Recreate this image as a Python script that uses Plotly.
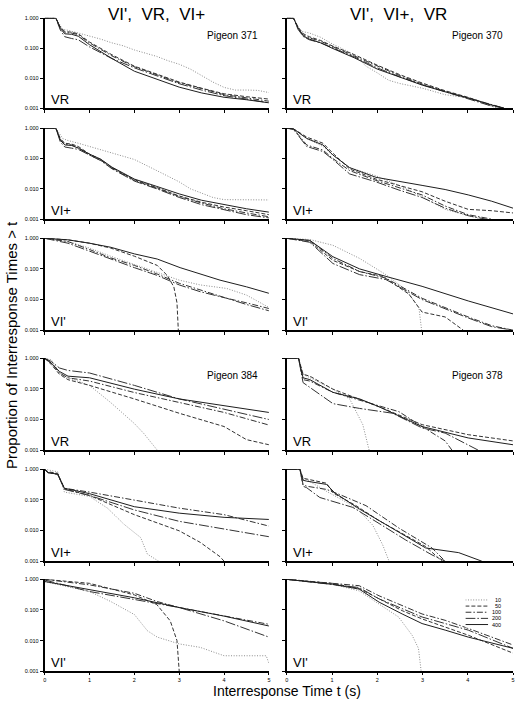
import plotly.graph_objects as go

W, H = 517, 701
FONT = "Arial, Liberation Sans, Helvetica, sans-serif"

SERIES = ["10", "50", "100", "200", "400"]
DASHES = {"10": "1px,1.6px", "50": "4px,2px", "100": "6px,2px,1.5px,2px",
          "200": "10px,2px,1.5px,2px", "400": "solid"}
COLORS = {"10": "#8c8c8c", "50": "#333333", "100": "#333333", "200": "#333333", "400": "#1e1e1e"}

# ---------------- data: series -> (time t in s, proportion of IRTs > t) ----------------
P371_VR = {
    "10": ([0, 0.25, 0.4, 0.5, 0.75, 1, 1.25, 1.5, 1.75, 2, 2.25, 2.5, 2.75, 3, 3.25, 3.5, 3.75, 4, 4.25, 4.5, 4.75, 5],
           [1, 1, 0.42, 0.40, 0.32, 0.26, 0.20, 0.15, 0.12, 0.087, 0.068, 0.053, 0.038, 0.029, 0.020, 0.012, 0.0074, 0.0049, 0.0040, 0.0040, 0.0039, 0.0033]),
    "50": ([0, 0.25, 0.35, 0.45, 0.6, 0.75, 1, 1.5, 2, 2.5, 3, 3.5, 4, 4.5, 5],
           [1, 1, 0.5, 0.36, 0.34, 0.30, 0.16, 0.06, 0.025, 0.014, 0.0074, 0.0046, 0.003, 0.0024, 0.002]),
    "100": ([0, 0.25, 0.35, 0.45, 0.6, 0.75, 1, 1.5, 2, 2.5, 3, 3.5, 4, 4.5, 5],
            [1, 1, 0.5, 0.33, 0.32, 0.28, 0.15, 0.055, 0.024, 0.013, 0.007, 0.0045, 0.0028, 0.0022, 0.0017]),
    "200": ([0, 0.25, 0.35, 0.45, 0.6, 0.75, 1, 1.5, 2, 2.5, 3, 3.5, 4, 4.5, 5],
            [1, 1, 0.4, 0.24, 0.21, 0.19, 0.11, 0.045, 0.022, 0.012, 0.0065, 0.004, 0.0026, 0.002, 0.0015]),
    "400": ([0, 0.25, 0.35, 0.45, 0.6, 0.75, 1, 1.5, 2, 2.5, 3, 3.5, 4, 4.5, 5],
            [1, 1, 0.45, 0.3, 0.29, 0.25, 0.13, 0.045, 0.017, 0.009, 0.005, 0.0032, 0.0023, 0.0019, 0.0015]),
}
P370_VR = {
    "10": ([0, 0.15, 0.3, 0.5, 0.75, 1, 1.5, 1.75, 2, 2.25, 2.5, 3, 3.5, 4, 4.5, 4.65],
           [1, 1, 0.37, 0.32, 0.23, 0.14, 0.06, 0.025, 0.015, 0.0085, 0.0066, 0.0046, 0.0028, 0.0022, 0.0012, 0.001]),
    "50": ([0, 0.15, 0.25, 0.37, 0.5, 0.75, 1, 1.5, 2, 2.5, 3, 3.5, 4, 4.5, 4.8],
           [1, 1, 0.5, 0.3, 0.24, 0.18, 0.12, 0.06, 0.027, 0.013, 0.0068, 0.0038, 0.0023, 0.0013, 0.001]),
    "100": ([0, 0.15, 0.25, 0.37, 0.5, 0.75, 1, 1.5, 2, 2.5, 3, 3.5, 4, 4.5, 4.8],
            [1, 1, 0.45, 0.27, 0.22, 0.17, 0.115, 0.055, 0.025, 0.012, 0.0063, 0.0036, 0.0022, 0.0013, 0.001]),
    "200": ([0, 0.15, 0.25, 0.37, 0.5, 0.75, 1, 1.5, 2, 2.5, 3, 3.5, 4, 4.5, 4.8],
            [1, 1, 0.42, 0.24, 0.19, 0.15, 0.105, 0.05, 0.022, 0.011, 0.006, 0.0035, 0.0021, 0.0012, 0.001]),
    "400": ([0, 0.15, 0.25, 0.37, 0.5, 0.75, 1, 1.5, 2, 2.5, 3, 3.5, 4, 4.5, 4.8],
            [1, 1, 0.47, 0.25, 0.2, 0.15, 0.1, 0.047, 0.02, 0.0105, 0.0058, 0.0035, 0.0022, 0.0013, 0.001]),
}
P371_VIPLUS = {
    "10": ([0, 0.25, 0.4, 0.5, 0.75, 1, 1.5, 2, 2.5, 3, 3.25, 3.5, 3.75, 4, 5],
           [1, 1, 0.46, 0.4, 0.32, 0.25, 0.15, 0.093, 0.04, 0.017, 0.01, 0.007, 0.0052, 0.0044, 0.0043]),
    "50": ([0, 0.25, 0.35, 0.45, 0.6, 0.75, 1, 1.25, 1.5, 2, 2.5, 3, 3.5, 4, 4.5, 5],
           [1, 1, 0.45, 0.32, 0.3, 0.25, 0.14, 0.093, 0.05, 0.02, 0.011, 0.0058, 0.0036, 0.0025, 0.0019, 0.0014]),
    "100": ([0, 0.25, 0.35, 0.45, 0.6, 0.75, 1, 1.25, 1.5, 2, 2.5, 3, 3.5, 4, 4.5, 5],
            [1, 1, 0.42, 0.3, 0.28, 0.23, 0.13, 0.088, 0.048, 0.019, 0.0105, 0.0056, 0.0034, 0.0022, 0.0016, 0.0012]),
    "200": ([0, 0.25, 0.35, 0.45, 0.6, 0.75, 1, 1.25, 1.5, 2, 2.5, 3, 3.5, 4, 4.5, 5],
            [1, 1, 0.35, 0.24, 0.22, 0.2, 0.13, 0.085, 0.046, 0.018, 0.01, 0.0052, 0.003, 0.002, 0.0014, 0.0011]),
    "400": ([0, 0.25, 0.35, 0.45, 0.6, 0.75, 1, 1.25, 1.5, 2, 2.5, 3, 3.5, 4, 4.5, 5],
            [1, 1, 0.4, 0.28, 0.27, 0.22, 0.14, 0.095, 0.052, 0.021, 0.012, 0.0068, 0.0042, 0.003, 0.0022, 0.0017]),
}
P370_VIPLUS = {
    "10": ([0, 0.15, 0.44, 0.8, 1.02, 1.39, 1.97, 2.48, 2.99, 3.5, 4.01, 4.3],
           [1, 0.95, 0.46, 0.25, 0.13, 0.05, 0.027, 0.013, 0.0055, 0.0021, 0.0013, 0.001]),
    "50": ([0, 0.15, 0.44, 0.8, 1.02, 1.39, 1.97, 2.48, 2.99, 3.5, 4.01, 4.53, 5],
           [1, 0.95, 0.51, 0.32, 0.15, 0.045, 0.021, 0.013, 0.008, 0.0039, 0.0021, 0.0019, 0.0016]),
    "100": ([0, 0.15, 0.44, 0.8, 1.02, 1.39, 1.97, 2.48, 2.99, 3.5, 4.01, 4.53],
            [1, 0.95, 0.28, 0.19, 0.1, 0.04, 0.019, 0.011, 0.0063, 0.0027, 0.0014, 0.001]),
    "200": ([0, 0.15, 0.44, 0.8, 1.02, 1.39, 1.97, 2.48, 2.99, 3.5, 4.01, 4.4],
            [1, 0.91, 0.25, 0.17, 0.093, 0.031, 0.017, 0.0091, 0.0052, 0.0023, 0.0013, 0.001]),
    "400": ([0, 0.15, 0.44, 0.8, 1.02, 1.39, 1.97, 2.48, 2.99, 3.5, 4.01, 4.53, 5],
            [1, 0.95, 0.46, 0.28, 0.13, 0.05, 0.024, 0.018, 0.013, 0.0095, 0.0063, 0.0039, 0.0023]),
}
P371_VIPRIME = {
    "10": ([0, 0.52, 1, 1.47, 2, 2.5, 3, 3.47, 4.06, 4.5, 5],
           [1, 0.78, 0.48, 0.26, 0.14, 0.078, 0.043, 0.03, 0.023, 0.014, 0.0055]),
    "50": ([0, 0.52, 1, 1.47, 2, 2.29, 2.51, 2.73, 2.88, 2.95, 2.98],
           [1, 0.89, 0.69, 0.48, 0.26, 0.18, 0.13, 0.062, 0.026, 0.0079, 0.001]),
    "100": ([0, 0.52, 1, 1.47, 2, 2.5, 3, 3.47, 4.06, 4.5, 5],
            [1, 0.78, 0.43, 0.23, 0.13, 0.069, 0.034, 0.021, 0.011, 0.0078, 0.0051]),
    "200": ([0, 0.52, 1, 1.47, 2, 2.5, 3, 3.47, 4.06, 4.5, 5],
            [1, 0.69, 0.38, 0.21, 0.11, 0.062, 0.03, 0.018, 0.011, 0.0069, 0.0043]),
    "400": ([0, 0.52, 1, 1.47, 2, 2.51, 3.02, 3.47, 3.91, 4.5, 5],
            [1, 0.89, 0.69, 0.51, 0.31, 0.21, 0.11, 0.069, 0.043, 0.026, 0.016]),
}
P370_VIPRIME = {
    "10": ([0, 0.51, 1.02, 1.61, 2.19, 2.63, 2.92, 2.98],
           [1, 0.91, 0.59, 0.22, 0.065, 0.021, 0.0055, 0.001]),
    "50": ([0, 0.51, 1.02, 1.61, 2.12, 2.7, 2.99, 3.5, 3.9],
           [1, 0.78, 0.19, 0.082, 0.057, 0.015, 0.0039, 0.0027, 0.001]),
    "100": ([0, 0.51, 1.02, 1.61, 2.19, 2.99, 4.01, 4.53, 5],
            [1, 0.85, 0.22, 0.082, 0.05, 0.011, 0.0027, 0.0014, 0.001]),
    "200": ([0, 0.51, 1.02, 1.61, 2.19, 2.99, 4.01, 4.53, 5],
            [1, 0.74, 0.15, 0.065, 0.045, 0.01, 0.0025, 0.0013, 0.001]),
    "400": ([0, 0.51, 1.02, 1.61, 2.19, 2.99, 4.01, 5],
            [1, 0.85, 0.25, 0.1, 0.057, 0.027, 0.009, 0.0034]),
}
P384_VR = {
    "10": ([0, 0.15, 0.33, 0.44, 1.0, 1.47, 2.0, 2.21, 2.51],
           [1, 0.89, 0.33, 0.26, 0.13, 0.036, 0.0074, 0.0035, 0.001]),
    "50": ([0, 0.15, 0.33, 0.52, 1, 2, 3, 4, 4.5, 5],
           [1, 0.62, 0.3, 0.2, 0.13, 0.047, 0.016, 0.0059, 0.0022, 0.0015]),
    "100": ([0, 0.15, 0.33, 0.52, 1, 2, 3, 4, 5],
            [1, 0.69, 0.33, 0.23, 0.18, 0.076, 0.036, 0.017, 0.0066]),
    "200": ([0, 0.15, 0.33, 0.52, 1, 2, 3, 4, 5],
            [1, 0.78, 0.48, 0.4, 0.33, 0.13, 0.047, 0.022, 0.01]),
    "400": ([0, 0.15, 0.33, 0.52, 1, 2, 3, 4, 5],
            [1, 0.69, 0.37, 0.26, 0.23, 0.098, 0.047, 0.029, 0.017]),
}
P378_VR = {
    "10": ([0, 0.26, 0.36, 0.51, 1.02, 1.39, 1.68, 1.82],
           [1, 1, 0.3, 0.23, 0.098, 0.047, 0.0068, 0.001]),
    "50": ([0, 0.26, 0.36, 0.51, 1.02, 1.61, 2.04, 2.99, 4.01, 5],
           [1, 1, 0.3, 0.26, 0.098, 0.047, 0.026, 0.0068, 0.0032, 0.002]),
    "100": ([0, 0.26, 0.36, 0.51, 1.02, 1.61, 2.48, 2.99, 3.5, 3.65],
            [1, 1, 0.2, 0.18, 0.077, 0.042, 0.018, 0.0059, 0.002, 0.001]),
    "200": ([0, 0.26, 0.36, 0.51, 1.02, 1.61, 2.34, 2.99, 3.5, 4.23],
            [1, 1, 0.16, 0.11, 0.033, 0.023, 0.016, 0.0053, 0.0036, 0.001]),
    "400": ([0, 0.26, 0.36, 0.51, 1.02, 1.61, 2.04, 2.99, 4.01, 5],
            [1, 1, 0.23, 0.2, 0.077, 0.047, 0.026, 0.0059, 0.0025, 0.0015]),
}
P384_VIPLUS = {
    "10": ([0, 0.07, 0.29, 0.44, 1.0, 1.4, 1.77, 2.14, 2.29, 2.54],
           [1, 0.95, 0.83, 0.18, 0.13, 0.054, 0.016, 0.0059, 0.0017, 0.001]),
    "50": ([0, 0.07, 0.29, 0.44, 1.0, 2.0, 3.0, 3.47, 3.91, 4.0],
           [1, 0.83, 0.74, 0.23, 0.14, 0.033, 0.0098, 0.0041, 0.0014, 0.001]),
    "100": ([0, 0.07, 0.29, 0.44, 1, 2, 3, 4, 5],
            [1, 0.78, 0.69, 0.24, 0.18, 0.1, 0.054, 0.033, 0.014]),
    "200": ([0, 0.07, 0.29, 0.44, 1, 2, 3, 4, 5],
            [1, 0.78, 0.69, 0.22, 0.14, 0.047, 0.02, 0.011, 0.0063]),
    "400": ([0, 0.07, 0.29, 0.44, 1, 2, 3, 4, 5],
            [1, 0.78, 0.69, 0.24, 0.16, 0.06, 0.037, 0.027, 0.023]),
}
P378_VIPLUS = {
    "10": ([0, 0.29, 0.36, 0.44, 0.88, 1.53, 1.9, 2.12, 2.26],
           [1, 1, 0.48, 0.46, 0.19, 0.057, 0.015, 0.0034, 0.001]),
    "50": ([0, 0.29, 0.36, 0.44, 0.88, 1.02, 1.53, 2.04, 2.55, 3.07, 3.43],
           [1, 1, 0.51, 0.48, 0.35, 0.17, 0.065, 0.021, 0.008, 0.003, 0.001]),
    "100": ([0, 0.29, 0.36, 0.44, 0.88, 1.17, 1.75, 2.48, 3.21, 3.5],
            [1, 1, 0.32, 0.28, 0.22, 0.15, 0.065, 0.012, 0.0027, 0.001]),
    "200": ([0, 0.29, 0.36, 0.44, 0.73, 1.46, 2.04, 2.63, 3.21, 3.5],
            [1, 1, 0.28, 0.25, 0.12, 0.057, 0.017, 0.0049, 0.0016, 0.001]),
    "400": ([0, 0.29, 0.36, 0.44, 0.88, 1.06, 1.61, 2.34, 3.07, 3.8, 4.31],
            [1, 1, 0.44, 0.41, 0.32, 0.17, 0.05, 0.012, 0.0027, 0.0019, 0.001]),
}
P384_VIPRIME = {
    "10": ([0, 1, 1.47, 2, 2.29, 2.51, 3, 3.47, 4, 4.94, 5],
           [0.84, 0.4, 0.19, 0.071, 0.021, 0.013, 0.0078, 0.006, 0.0032, 0.0032, 0.0018]),
    "50": ([0, 1, 2, 2.5, 2.8, 2.95, 3.0],
           [1, 0.74, 0.31, 0.15, 0.044, 0.01, 0.001]),
    "100": ([0, 1, 2, 2.5, 3, 4, 5],
            [1, 0.66, 0.35, 0.19, 0.12, 0.063, 0.034]),
    "200": ([0, 1, 2, 3, 4, 5],
            [0.95, 0.4, 0.22, 0.12, 0.044, 0.013]),
    "400": ([0, 1, 2, 3, 4, 5],
            [0.85, 0.46, 0.25, 0.12, 0.063, 0.03]),
}
P378_VIPRIME = {
    "10": ([0, 1.01, 1.6, 2.04, 2.47, 2.77, 2.91, 2.97],
           [1, 0.69, 0.42, 0.16, 0.059, 0.015, 0.0056, 0.001]),
    "50": ([0, 1.01, 1.6, 2.04, 2.55, 2.99, 3.5, 4.01, 5],
           [1, 0.74, 0.5, 0.23, 0.095, 0.051, 0.028, 0.015, 0.0039]),
    "100": ([0, 1.01, 1.6, 2.04, 2.55, 2.99, 3.5, 4.01, 5],
            [1, 0.74, 0.62, 0.29, 0.14, 0.074, 0.046, 0.025, 0.0072]),
    "200": ([0, 1.01, 1.6, 2.04, 2.55, 2.99, 3.5, 4.01, 5],
            [1, 0.69, 0.54, 0.23, 0.11, 0.059, 0.036, 0.022, 0.0056]),
    "400": ([0, 1.01, 1.6, 2.04, 2.55, 2.99, 3.5, 4.01, 5],
            [1, 0.69, 0.48, 0.18, 0.074, 0.036, 0.022, 0.013, 0.0056]),
}

PANELS = [P371_VR, P370_VR, P371_VIPLUS, P370_VIPLUS, P371_VIPRIME, P370_VIPRIME,
          P384_VR, P378_VR, P384_VIPLUS, P378_VIPLUS, P384_VIPRIME, P378_VIPRIME]
ROW_LABELS = ["VR", "VI+", "VI'", "VR", "VI+", "VI'"]
COL_TITLES = ["VI',\u00a0\u00a0VR,\u00a0\u00a0VI+", "VI',\u00a0\u00a0VI+,\u00a0\u00a0VR"]
PIGEONS = {0: "Pigeon 371", 1: "Pigeon 370", 6: "Pigeon 384", 7: "Pigeon 378"}
Y_TICKS = [0.001, 0.01, 0.1, 1]
Y_TICKTEXT = ["0.001", "0.010", "0.100", "1.000"]
X_TICKS = [0, 1, 2, 3, 4, 5]

# ---------------- layout geometry (pixels) ----------------
ROW_PX = [(15, 106), (126, 218), (237, 330), (358, 451), (470, 563), (581, 674)]
COL_PX = [(43, 269), (287, 515)]


def fx(p):
    return p / W


def fy(p):
    return 1 - p / H


fig = go.Figure()
layout = {}
annotations = []

for i, panel in enumerate(PANELS):
    r, c = divmod(i, 2)
    n = i + 1
    xa, ya = ("x", "y") if n == 1 else (f"x{n}", f"y{n}")
    for s in SERIES:
        t, p = panel[s]
        fig.add_trace(go.Scatter(
            x=t, y=p, mode="lines", xaxis=xa, yaxis=ya, name=s,
            line=dict(color=COLORS[s], width=1, dash=DASHES[s]),
            showlegend=False, hoverinfo="skip"))
    x0, x1 = COL_PX[c]
    y0, y1 = ROW_PX[r]
    kx = "xaxis" if n == 1 else f"xaxis{n}"
    ky = "yaxis" if n == 1 else f"yaxis{n}"
    layout[kx] = dict(domain=[fx(x0), fx(x1)], anchor=ya, range=[0, 5],
                      tickvals=X_TICKS, showticklabels=(r == 5),
                      ticks="outside", ticklen=(2 if r == 5 else 3), tickwidth=1, tickcolor="black",
                      showline=True, linewidth=2, linecolor="black",
                      showgrid=False, zeroline=False,
                      tickfont=dict(size=5.5, color="black", family=FONT))
    layout[ky] = dict(domain=[fy(y1), fy(y0)], anchor=xa, type="log",
                      range=[-3, 0.01], tickvals=Y_TICKS, ticktext=Y_TICKTEXT,
                      showticklabels=(c == 0),
                      ticks="outside", ticklen=3, tickwidth=1, tickcolor="black",
                      showline=True, linewidth=2, linecolor="black",
                      showgrid=False, zeroline=False,
                      tickfont=dict(size=5.5, color="black", family=FONT))
    annotations.append(dict(text=ROW_LABELS[r], xref="paper", yref="paper",
                            x=fx(x0 + 4), y=fy(y1 - 9), xanchor="left", yanchor="middle",
                            showarrow=False, font=dict(size=13, color="black", family=FONT)))
    if i in PIGEONS:
        cx = 232 if c == 0 else 479
        annotations.append(dict(text=PIGEONS[i], xref="paper", yref="paper",
                                x=fx(cx), y=fy(y0 + 18), xanchor="center", yanchor="middle",
                                showarrow=False, font=dict(size=10, color="black", family=FONT)))

# column titles and axis titles
for c, title in enumerate(COL_TITLES):
    cx = 156 if c == 0 else 400
    annotations.append(dict(text=title, xref="paper", yref="paper", x=fx(cx), y=fy(12),
                            xanchor="center", yanchor="middle", showarrow=False,
                            font=dict(size=17, color="black", family=FONT)))
annotations.append(dict(text="Proportion of Interresponse Times &gt; t", xref="paper", yref="paper",
                        x=fx(9), y=fy(345), textangle=-90, xanchor="center", yanchor="middle",
                        showarrow=False, font=dict(size=15, color="black", family=FONT)))
annotations.append(dict(text="Interresponse Time t (s)", xref="paper", yref="paper",
                        x=fx(287), y=fy(693.5), xanchor="center", yanchor="middle",
                        showarrow=False, borderpad=0,
                        font=dict(size=14, color="black", family=FONT)))

# legend drawn in a small auxiliary axis inside the bottom-right panel
LEG = 13
for k, s in enumerate(SERIES):
    fig.add_trace(go.Scatter(x=[0, 1], y=[k, k], mode="lines", xaxis=f"x{LEG}", yaxis=f"y{LEG}",
                             line=dict(color=COLORS[s], width=1, dash=DASHES[s]),
                             showlegend=False, hoverinfo="skip"))
    annotations.append(dict(text=s, xref="paper", yref=f"y{LEG}", x=fx(505), y=k,
                            xanchor="right", yanchor="middle", showarrow=False,
                            font=dict(size=5.5, color="black", family=FONT)))
layout[f"xaxis{LEG}"] = dict(domain=[fx(467), fx(490)], anchor=f"y{LEG}", range=[0, 1], visible=False)
layout[f"yaxis{LEG}"] = dict(domain=[fy(630), fy(599)], anchor=f"x{LEG}", range=[4.5, -0.5], visible=False)

fig.update_layout(**layout)
fig.update_layout(width=W, height=H, margin=dict(l=0, r=0, t=0, b=0),
                  paper_bgcolor="white", plot_bgcolor="white",
                  annotations=annotations, showlegend=False,
                  font=dict(family=FONT, color="black"))
fig.write_html("out.html", config={"displayModeBar": False},
               post_script="document.body.style.margin='0';document.body.style.overflow='hidden';")
